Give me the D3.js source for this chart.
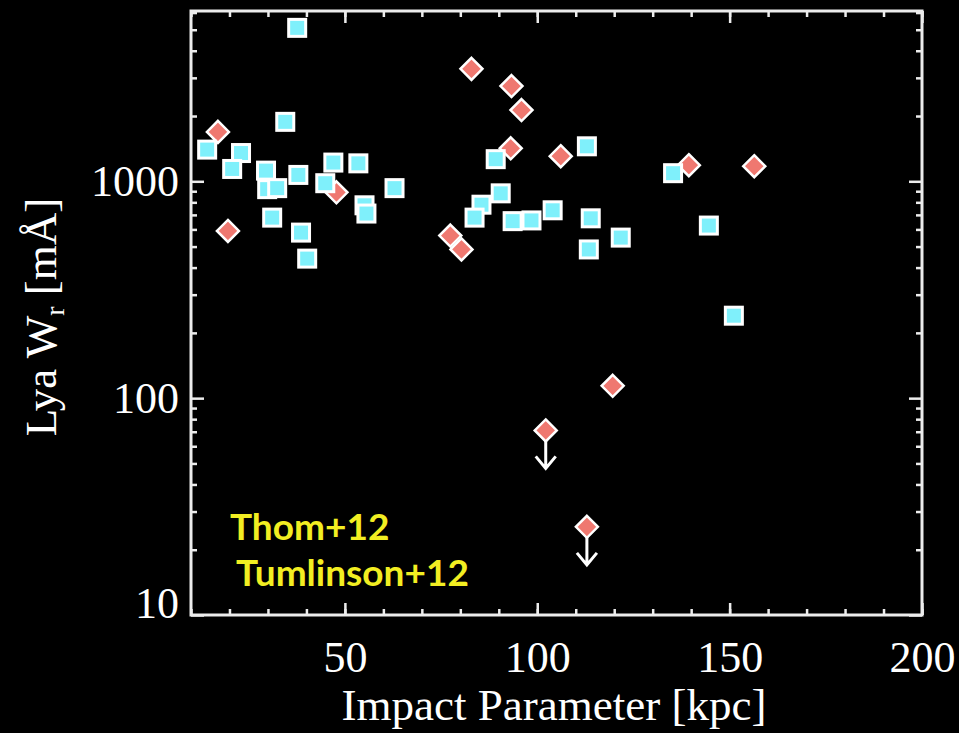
<!DOCTYPE html>
<html>
<head>
<meta charset="utf-8">
<script src="https://cdn.jsdelivr.net/npm/d3@7"></script>
<style>
  html, body { margin: 0; padding: 0; background: #000; }
  svg { display: block; }
</style>
</head>
<body>
<div id="chart"></div>
<script>
// cyan squares : impact parameter [kpc] and Lya W_r [mA]
const sqX = [37.6, 34.5, 14.2, 23.0, 20.7, 29.5, 37.9, 47.0, 53.5, 44.9, 29.8, 32.4, 55.1, 55.6, 31.1, 38.6,
             40.2, 62.9, 112.9, 89.2, 90.5, 85.5, 83.7, 93.6, 98.5, 104.0, 113.9, 113.4, 121.7, 135.3, 144.6, 151.1];
const sqW = [5100, 1880, 1400, 1350, 1140, 1120, 1070, 1220, 1210, 980, 920, 930, 775, 710, 680, 580,
             440, 930, 1450, 1265, 880, 780, 680, 655, 660, 735, 675, 485, 550, 1090, 625, 240];

// red diamonds (the two last ones are upper limits)
const diaX = [17.0, 47.8, 19.6, 82.9, 93.3, 95.9, 93.1, 106.1, 77.4, 80.3, 139.4, 156.4, 119.6, 102.2, 112.9];
const diaW = [1690, 890, 590, 3300, 2750, 2130, 1420, 1305, 562, 485, 1186, 1174, 114, 71, 25.5];
const diaLimit = [false, false, false, false, false, false, false, false, false, false, false, false, false, true, true];

const xMajor = [50, 100, 150, 200];
const xMinor = d3.range(10, 201, 10);
const yMajor = [10, 100, 1000];
const yMinor = [20, 30, 40, 50, 60, 70, 80, 90, 200, 300, 400, 500, 600, 700, 800, 900, 2000, 3000, 4000, 5000, 6000];
const legendLines = ["Thom+12", "Tumlinson+12"];

const W = 959, H = 733;
const margin = {top: 11, right: 37, bottom: 118, left: 191};
const width = W - margin.left - margin.right;
const height = H - margin.top - margin.bottom;

const svg = d3.select("#chart").append("svg")
    .attr("width", W)
    .attr("height", H)
    .style("background", "#000");

const g = svg.append("g")
    .attr("transform", `translate(${margin.left},${margin.top})`);

const x = d3.scaleLinear().domain([10, 200]).range([0, width]);
const y = d3.scaleLog().domain([10, 6100]).range([height, 0]);

const axisColor = "#ececec";
const serif = "'Liberation Serif', 'Times New Roman', serif";

// axes (ticks point inward, IDL style)
const styleAxis = sel => {
    sel.select(".domain").remove();
    sel.selectAll("line").attr("stroke", axisColor).attr("stroke-width", 2.5);
    sel.selectAll("text").attr("fill", "#fff").style("font-family", serif).style("font-size", "44px");
};

g.append("g").attr("transform", `translate(0,${height})`)
    .call(d3.axisBottom(x).tickValues(xMinor).tickSize(-6).tickFormat(""))
    .call(styleAxis);
g.append("g").attr("transform", `translate(0,${height})`)
    .call(d3.axisBottom(x).tickValues(xMajor).tickSize(-12).tickPadding(26).tickFormat(d3.format("d")))
    .call(styleAxis);
g.append("g")
    .call(d3.axisTop(x).tickValues(xMinor).tickSize(-6).tickFormat(""))
    .call(styleAxis);
g.append("g")
    .call(d3.axisTop(x).tickValues(xMajor).tickSize(-12).tickFormat(""))
    .call(styleAxis);

g.append("g")
    .call(d3.axisLeft(y).tickValues(yMinor).tickSize(-6).tickFormat(""))
    .call(styleAxis);
const yAx = g.append("g")
    .call(d3.axisLeft(y).tickValues(yMajor).tickSize(-13).tickPadding(12).tickFormat(d3.format("d")))
    .call(styleAxis);
yAx.selectAll(".tick text").filter(d => d === 10).attr("dy", "0.05em");
g.append("g").attr("transform", `translate(${width},0)`)
    .call(d3.axisRight(y).tickValues(yMinor).tickSize(-6).tickFormat(""))
    .call(styleAxis);
g.append("g").attr("transform", `translate(${width},0)`)
    .call(d3.axisRight(y).tickValues(yMajor).tickSize(-13).tickFormat(""))
    .call(styleAxis);

g.append("rect")
    .attr("width", width)
    .attr("height", height)
    .attr("fill", "none")
    .attr("stroke", axisColor)
    .attr("stroke-width", 3);

// axis titles
svg.append("text")
    .attr("x", 554)
    .attr("y", 720)
    .attr("text-anchor", "middle")
    .attr("fill", "#fff")
    .style("font-family", serif)
    .style("font-size", "45px")
    .text("Impact Parameter [kpc]");

const yt = svg.append("text")
    .attr("transform", "translate(56,317) rotate(-90)")
    .attr("text-anchor", "middle")
    .attr("fill", "#fff")
    .style("font-family", serif)
    .style("font-size", "45px");
yt.append("tspan").text("Lya W");
yt.append("tspan").attr("dy", 8).style("font-size", "28px").text("r");
yt.append("tspan").attr("dy", -8).text(" [mÅ]");

// upper limit arrows
const diamonds = diaX.map((d, i) => ({x: d, w: diaW[i], lim: diaLimit[i]}));
const squares = sqX.map((d, i) => ({x: d, w: sqW[i]}));

g.selectAll(".arrow")
    .data(diamonds.filter(d => d.lim))
    .join("path")
    .attr("class", "arrow")
    .attr("transform", d => `translate(${x(d.x)},${y(d.w)})`)
    .attr("d", "M0,0 V38 M-10,26 L0,38 L10,26")
    .attr("fill", "none")
    .attr("stroke", "#fff")
    .attr("stroke-width", 3);

// diamonds
g.selectAll(".dia")
    .data(diamonds)
    .join("path")
    .attr("class", "dia")
    .attr("transform", d => `translate(${x(d.x)},${y(d.w)})`)
    .attr("d", "M0,-11 L11,0 L0,11 L-11,0 Z")
    .attr("fill", "#ef7870")
    .attr("stroke", "#fff")
    .attr("stroke-width", 2.5);

// squares
g.selectAll(".sq")
    .data(squares)
    .join("rect")
    .attr("class", "sq")
    .attr("x", d => x(d.x) - 8.5)
    .attr("y", d => y(d.w) - 8.5)
    .attr("width", 17)
    .attr("height", 17)
    .attr("fill", "#7ff0fb")
    .attr("stroke", "#fff")
    .attr("stroke-width", 3);

// legend
svg.selectAll(".leg")
    .data(legendLines)
    .join("text")
    .attr("class", "leg")
    .attr("x", (d, i) => i === 0 ? 230 : 236)
    .attr("y", (d, i) => 540 + i * 46)
    .attr("fill", "#f2ee22")
    .style("font-family", "Lato, sans-serif")
    .style("font-weight", "bold")
    .style("font-size", "37px")
    .text(d => d);
</script>
</body>
</html>
